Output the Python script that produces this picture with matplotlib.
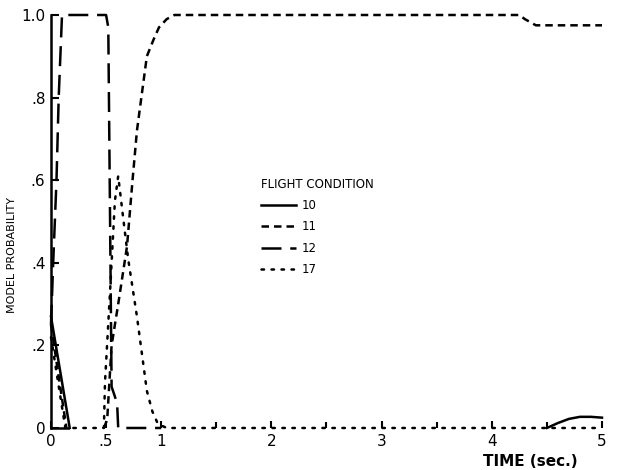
import matplotlib

matplotlib.use('Agg')

import matplotlib.pyplot as plt
import numpy as np

matplotlib.rcParams.update({'font.family': 'DejaVu Sans'})

# flight condition 10 (solid) - gap where it sits on zero
t10 = [0.0, 0.17, np.nan, 4.5, 4.6, 4.7, 4.8, 4.9, 5.0]
p10 = [0.27, 0.0, np.nan, 0.0, 0.012, 0.022, 0.027, 0.027, 0.025]

# flight condition 11 (short dash)
t11 = [0.0, 0.14, np.nan, 0.48, 0.51, 0.55, 0.61, 0.69, 0.74, 0.78, 0.83, 0.87,
       0.93, 0.98, 1.05, 1.12, 4.25, 4.3, 4.4, 5.0]
p11 = [0.25, 0.0, np.nan, 0.0, 0.02, 0.2, 0.30, 0.44, 0.6, 0.72, 0.82, 0.9,
       0.94, 0.97, 0.99, 1.0, 1.0, 0.99, 0.975, 0.975]

# flight condition 12 (long dash)
t12 = [0.0, 0.02, 0.05, 0.07, 0.1, 0.5, 0.52, 0.55, 0.6, 0.61, 1.0]
p12 = [0.25, 0.4, 0.6, 0.8, 1.0, 1.0, 0.97, 0.1, 0.06, 0.0, 0.0]

# flight condition 17 (dotted)
t17 = [0.0, 0.13, 0.48, 0.49, 0.54, 0.58, 0.61, 0.65, 0.70, 0.78, 0.83, 0.87,
       0.92, 0.97, 1.05, 5.0]
p17 = [0.22, 0.0, 0.0, 0.11, 0.35, 0.55, 0.61, 0.52, 0.41, 0.27, 0.17, 0.09,
       0.04, 0.01, 0.0, 0.0]

labels = ['10', '11', '12', '17']
xticks = [0, 0.5, 1, 2, 3, 4, 5]
xticklabels = ['0', '.5', '1', '2', '3', '4', '5']
xminor = [1.5, 2.5, 3.5, 4.5]
yticks = [0, 0.2, 0.4, 0.6, 0.8, 1.0]
yticklabels = ['0', '.2', '.4', '.6', '.8', '1.0']

fig = plt.figure(figsize=(6.18, 4.70), dpi=100)
ax = fig.add_axes([0.0825, 0.0894, 0.8916, 0.8787])

lw = 1.8
ax.plot(t10, p10, color='black', lw=lw, label=labels[0], clip_on=False)
ax.plot(t11, p11, color='black', lw=lw, linestyle=(0, (3, 2)), label=labels[1], clip_on=False)
ax.plot(t12, p12, color='black', lw=lw, linestyle=(0, (8, 3.5)), label=labels[2], clip_on=False)
ax.plot(t17, p17, color='black', lw=lw, linestyle=(0, (1, 3)), label=labels[3],
        dash_capstyle='round', clip_on=False)

ax.set_xlim(0, 5)
ax.set_ylim(0, 1.0)

for s in ['top', 'right']:
    ax.spines[s].set_visible(False)
ax.spines['left'].set_linewidth(1.8)
ax.spines['bottom'].set_linewidth(1.8)
ax.spines['bottom'].set_bounds(0, 0.15)

ax.set_xticks(xticks)
ax.set_xticklabels(xticklabels)
ax.set_xticks(xminor, minor=True)
ax.set_yticks(yticks)
ax.set_yticklabels(yticklabels)
ax.tick_params(axis='both', which='both', direction='in', width=1.5, labelsize=11, colors='black')
ax.tick_params(axis='x', which='major', length=5, pad=4)
ax.tick_params(axis='x', which='minor', length=4)
ax.tick_params(axis='y', length=6, pad=4)

ax.set_ylabel('MODEL PROBABILITY', fontsize=8)
ax.yaxis.set_label_coords(-0.062, 0.42)
ax.set_xlabel('TIME (sec.)', fontsize=11, fontweight='bold')
ax.xaxis.set_label_coords(0.87, -0.062)

leg = ax.legend(title='FLIGHT CONDITION', frameon=False, fontsize=8.5, title_fontsize=8.5,
                loc='upper left', bbox_to_anchor=(0.412, 0.634),
                bbox_transform=fig.transFigure, alignment='left',
                handlelength=3.0, handletextpad=0.5, labelspacing=0.7, borderpad=0)

fig.savefig('out.png', dpi=100)
plt.close(fig)
